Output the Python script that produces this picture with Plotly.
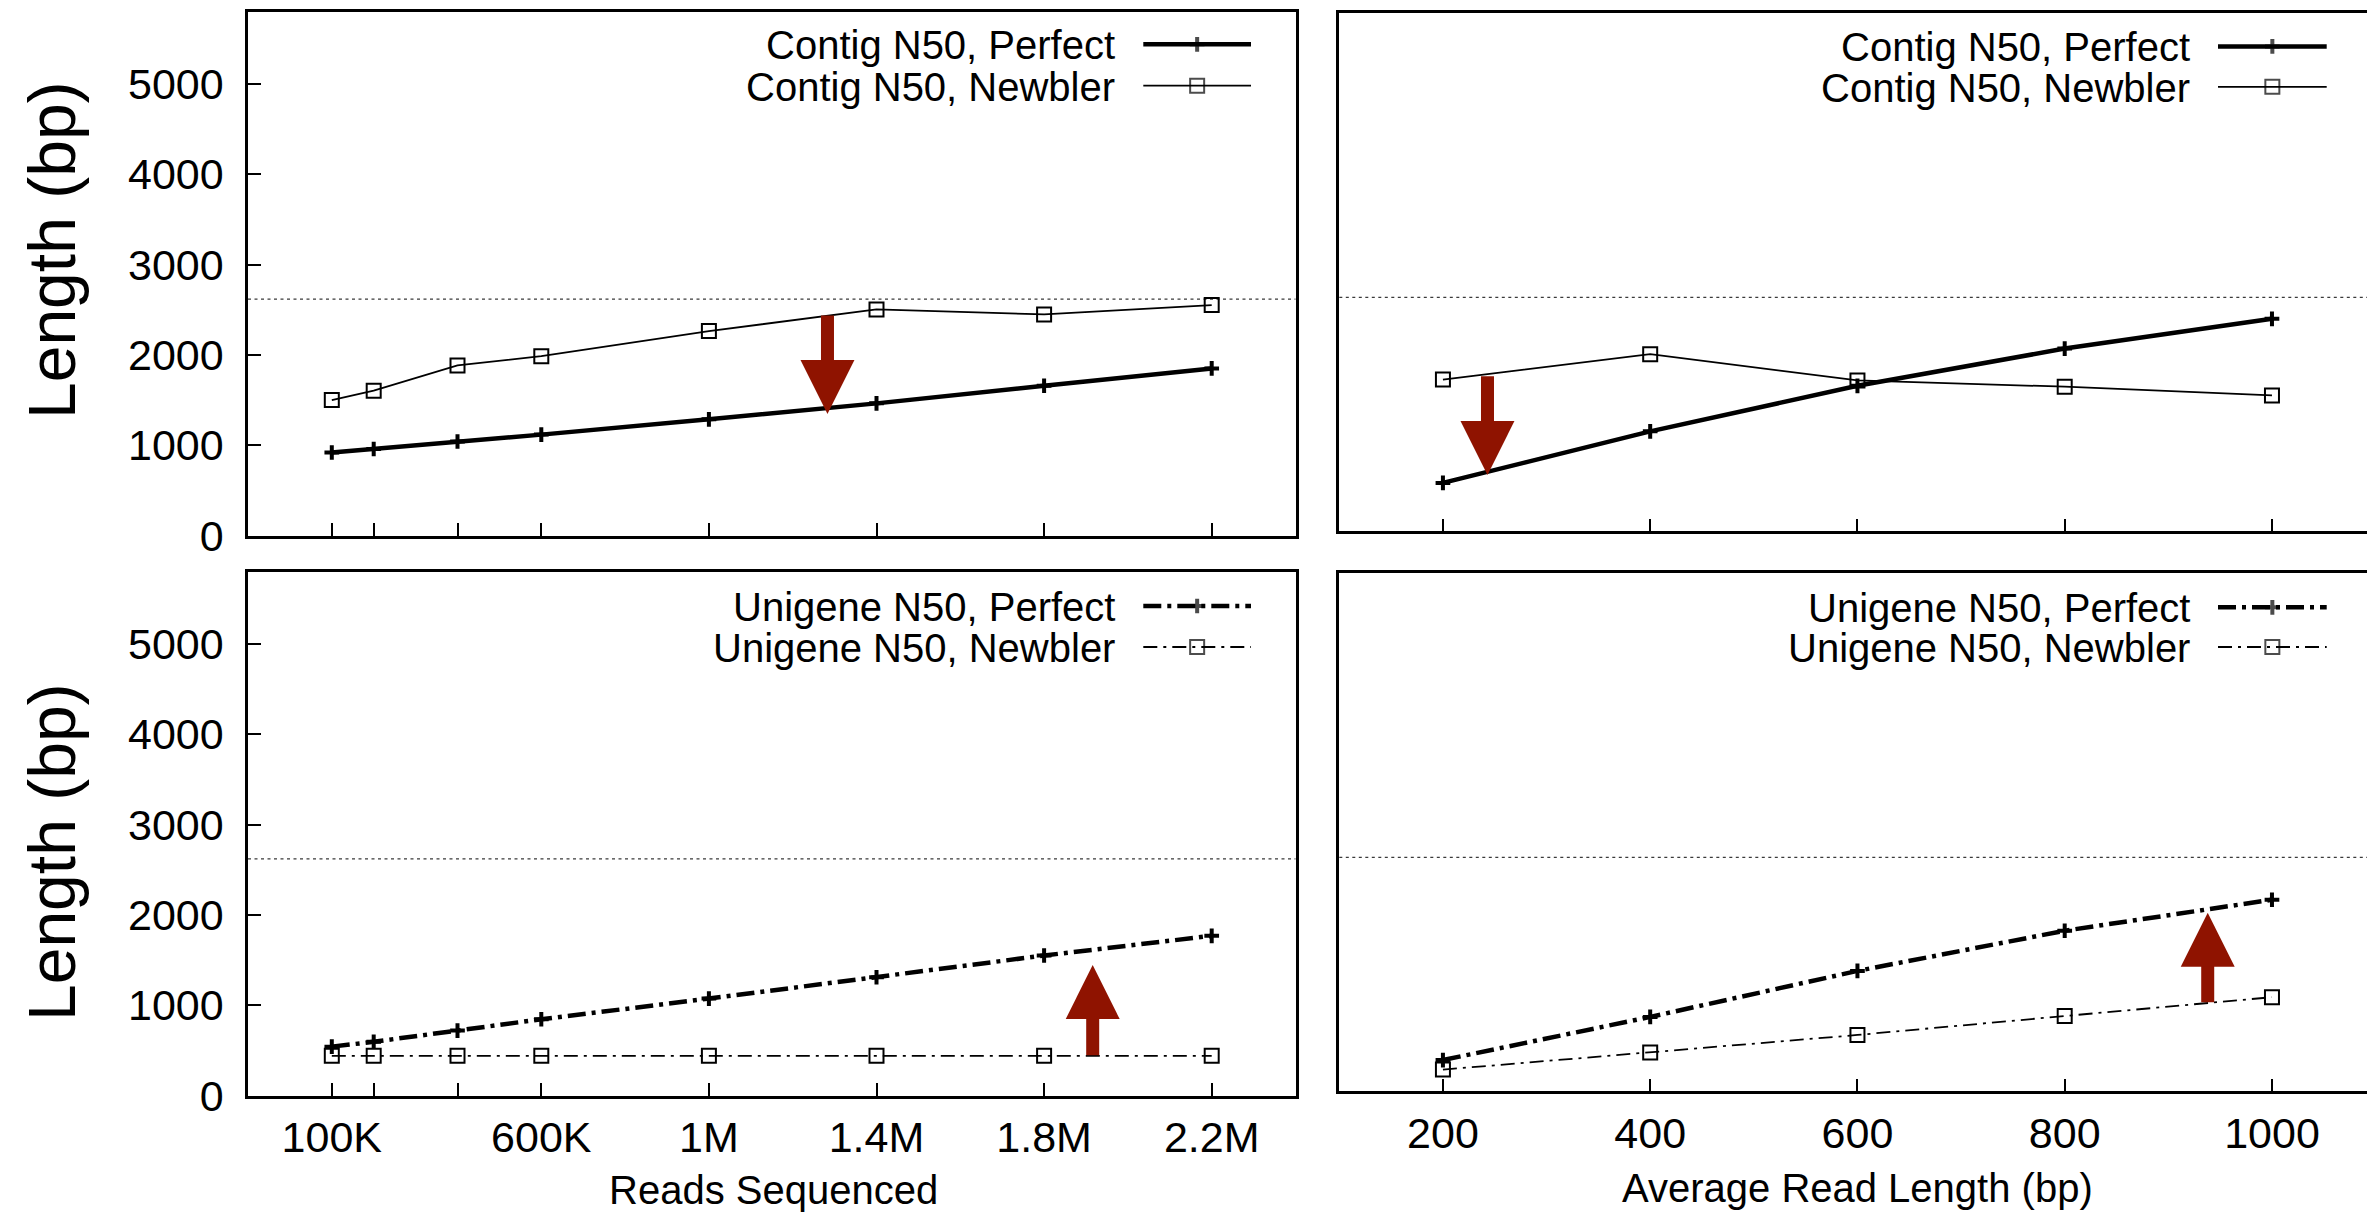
import plotly.graph_objects as go

# ---------------- data ----------------
reads = [100000, 200000, 400000, 600000, 1000000, 1400000, 1800000, 2200000]
read_tick_vals = [100000, 200000, 400000, 600000, 1000000, 1400000, 1800000, 2200000]
read_tick_text = ["100K", "", "", "600K", "1M", "1.4M", "1.8M", "2.2M"]

contig_perfect_reads = [921, 960, 1043, 1119, 1288, 1465, 1660, 1852]
contig_newbler_reads = [1502, 1605, 1885, 1988, 2265, 2505, 2450, 2553]
unigene_perfect_reads = [542, 596, 720, 845, 1074, 1310, 1551, 1769]
unigene_newbler_reads = [440, 440, 440, 440, 442, 442, 440, 440]

read_lengths = [200, 400, 600, 800, 1000]
contig_perfect_len = [543, 1120, 1630, 2047, 2380]
contig_newbler_len = [1700, 1984, 1691, 1620, 1523]
unigene_perfect_len = [351, 834, 1349, 1799, 2146]
unigene_newbler_len = [244, 436, 632, 844, 1055]

y_tick_vals = [0, 1000, 2000, 3000, 4000, 5000]
reference_n50 = 2620

legend_names = {
    "top": ["Contig N50, Perfect", "Contig N50, Newbler"],
    "bottom": ["Unigene N50, Perfect", "Unigene N50, Newbler"],
}

# ---------------- geometry helpers ----------------
W, H = 2367, 1216
def px(x):
    return x / W
def py(y):
    return 1 - y / H

FONT = "Liberation Sans"
ARROW_COLOR = "#8f1300"

# styles
perfect_line_solid = dict(color="black", width=4.5)
newbler_line_solid = dict(color="black", width=1.8)
perfect_line_dd = dict(color="black", width=4.5, dash="18px,6px,4px,6px")
newbler_line_dd = dict(color="black", width=1.8, dash="14px,6px,3px,6px")
perfect_marker = dict(symbol="cross-thin", size=10.5, color="black",
                      line=dict(color="black", width=4))
newbler_marker = dict(symbol="square-open", size=14, color="black",
                      line=dict(color="black", width=2))

fig = go.Figure()

def add_series(x, y, xa, ya, line, marker):
    fig.add_trace(go.Scatter(x=x, y=y, xaxis=xa, yaxis=ya, mode="lines+markers",
                             line=line, marker=marker, showlegend=False,
                             hoverinfo="skip"))

add_series(reads, contig_perfect_reads, "x", "y", perfect_line_solid, perfect_marker)
add_series(reads, contig_newbler_reads, "x", "y", newbler_line_solid, newbler_marker)
add_series(read_lengths, contig_perfect_len, "x2", "y2", perfect_line_solid, perfect_marker)
add_series(read_lengths, contig_newbler_len, "x2", "y2", newbler_line_solid, newbler_marker)
add_series(reads, unigene_perfect_reads, "x3", "y3", perfect_line_dd, perfect_marker)
add_series(reads, unigene_newbler_reads, "x3", "y3", newbler_line_dd, newbler_marker)
add_series(read_lengths, unigene_perfect_len, "x4", "y4", perfect_line_dd, perfect_marker)
add_series(read_lengths, unigene_newbler_len, "x4", "y4", newbler_line_dd, newbler_marker)

# ---------------- panel layout (pixel boxes) ----------------
panels = {
    # name: (left, right, top, bottom)
    "TL": (248, 1295.5, 11.8, 535.7),
    "TR": (1339.3, W, 13.4, 531.4),
    "BL": (248, 1295.5, 571.7, 1095.6),
    "BR": (1339.3, W, 573.4, 1091.4),
}

tickfont = dict(family=FONT, size=43, color="black")
common_x = dict(showline=True, linecolor="black", linewidth=2.5, mirror=True,
                ticks="inside", ticklen=13, tickwidth=2, tickcolor="black",
                showgrid=False, zeroline=False, tickfont=tickfont, fixedrange=True,
                automargin=False)
common_y = dict(showline=True, linecolor="black", linewidth=2.5,
                ticks="inside", ticklen=13, tickwidth=2, tickcolor="black",
                showgrid=False, zeroline=False, tickfont=tickfont, range=[0, 5800],
                tickvals=y_tick_vals, fixedrange=True, automargin=False)

def dom(p):
    l, r, t, b = panels[p]
    return [px(l), min(1.0, px(r))], [py(b), py(t)]

xd, yd = dom("TL")
fig.update_layout(
    xaxis=dict(common_x, domain=xd, anchor="y", range=[-100000, 2400000],
               tickvals=read_tick_vals, showticklabels=False),
    yaxis=dict(common_y, domain=yd, anchor="x", mirror=True, ticklabelstandoff=13),
)
xd, yd = dom("TR")
fig.update_layout(
    xaxis2=dict(common_x, domain=xd, anchor="y2", range=[100, 1091.7],
                tickvals=read_lengths, showticklabels=False),
    yaxis2=dict(common_y, domain=yd, anchor="x2", mirror=False, ticks="",
                showticklabels=False),
)
xd, yd = dom("BL")
fig.update_layout(
    xaxis3=dict(common_x, domain=xd, anchor="y3", range=[-100000, 2400000],
                tickvals=read_tick_vals, ticktext=read_tick_text,
                ticklabelstandoff=2),
    yaxis3=dict(common_y, domain=yd, anchor="x3", mirror=True, ticklabelstandoff=13),
)
xd, yd = dom("BR")
fig.update_layout(
    xaxis4=dict(common_x, domain=xd, anchor="y4", range=[100, 1091.7],
                tickvals=read_lengths, ticklabelstandoff=2),
    yaxis4=dict(common_y, domain=yd, anchor="x4", mirror=False, ticks="",
                showticklabels=False),
    # overlay axes in pixel units for hand-drawn legends
    xaxis5=dict(domain=[0, 1], range=[0, W], visible=False, anchor="y5",
                fixedrange=True, automargin=False),
    yaxis5=dict(domain=[0, 1], range=[H, 0], visible=False, anchor="x5",
                fixedrange=True, automargin=False),
)

shapes = []
annotations = []

# reference dotted line in each panel
for xr, yr in [("x", "y"), ("x2", "y2"), ("x3", "y3"), ("x4", "y4")]:
    shapes.append(dict(type="line", xref=f"{xr} domain", yref=yr, x0=0, x1=1,
                       y0=reference_n50, y1=reference_n50,
                       line=dict(color="#3a3a3a", width=1.3, dash="3px,3.5px"), layer="below"))

# ---------------- legends ----------------
legend_specs = [
    (1116.7, 1143.3, 1251, [44.3, 85.7], legend_names["top"],
     [(perfect_line_solid, perfect_marker), (newbler_line_solid, newbler_marker)]),
    (2191.7, 2218, 2326.7, [46.4, 86.8], legend_names["top"],
     [(perfect_line_solid, perfect_marker), (newbler_line_solid, newbler_marker)]),
    (1116.7, 1143.3, 1251, [606, 647], legend_names["bottom"],
     [(perfect_line_dd, perfect_marker), (newbler_line_dd, newbler_marker)]),
    (2191.7, 2218, 2326.7, [607.3, 647], legend_names["bottom"],
     [(perfect_line_dd, perfect_marker), (newbler_line_dd, newbler_marker)]),
]
for tr, s0, s1, rows, names, styles in legend_specs:
    for ry, name, (ln, mk) in zip(rows, names, styles):
        annotations.append(dict(text=name, xref="paper", yref="paper",
                                x=px(tr), y=py(ry + 1), xanchor="right", yanchor="middle",
                                showarrow=False, font=dict(family=FONT, size=40, color="black")))
        mk2 = dict(mk)
        mk2["size"] = [0, mk["size"], 0]
        fig.add_trace(go.Scatter(x=[s0, (s0 + s1) / 2, s1], y=[ry, ry, ry],
                                 xaxis="x5", yaxis="y5", mode="lines+markers",
                                 line=ln, marker=mk2, showlegend=False, hoverinfo="skip"))

# ---------------- axis titles ----------------
for cy in [250, 852]:
    annotations.append(dict(text="Length (bp)", xref="paper", yref="paper",
                            x=px(52), y=py(cy), textangle=-90, xanchor="center",
                            yanchor="middle", showarrow=False,
                            font=dict(family=FONT, size=66, color="black")))
annotations.append(dict(text="Reads Sequenced", xref="paper", yref="paper",
                        x=px(773), y=py(1190), xanchor="center", yanchor="middle",
                        showarrow=False, font=dict(family=FONT, size=40, color="black")))
annotations.append(dict(text="Average Read Length (bp)", xref="paper", yref="paper",
                        x=px(1857), y=py(1188), xanchor="center", yanchor="middle",
                        showarrow=False, font=dict(family=FONT, size=40, color="black")))

# ---------------- arrows ----------------
arrow_w = 13
arrow_size = 0.83
arrow_specs = [
    ("x", "y", 1283000, 2442, 1347),
    ("x2", "y2", 243, 1744, 632),
    ("x3", "y3", 1916000, 440, 1445),
    ("x4", "y4", 938, 993, 2001),
]
for xr, yr, ax_, tail, tip in arrow_specs:
    annotations.append(dict(text="", xref=xr, yref=yr, x=ax_, y=tip,
                            axref=xr, ayref=yr, ax=ax_, ay=tail,
                            showarrow=True, arrowhead=2, arrowsize=arrow_size,
                            arrowwidth=arrow_w, arrowcolor=ARROW_COLOR,
                            standoff=0, borderpad=0, font=dict(size=1)))

fig.update_layout(
    width=W, height=H, margin=dict(l=0, r=0, t=0, b=0, pad=0, autoexpand=False),
    paper_bgcolor="white", plot_bgcolor="rgba(0,0,0,0)",
    font=dict(family=FONT, color="black"),
    showlegend=False, shapes=shapes, annotations=annotations,
)

fig.write_html(
    "out.html",
    config={"displayModeBar": False},
    post_script="document.body.style.margin='0px';document.body.style.overflow='hidden';",
)
